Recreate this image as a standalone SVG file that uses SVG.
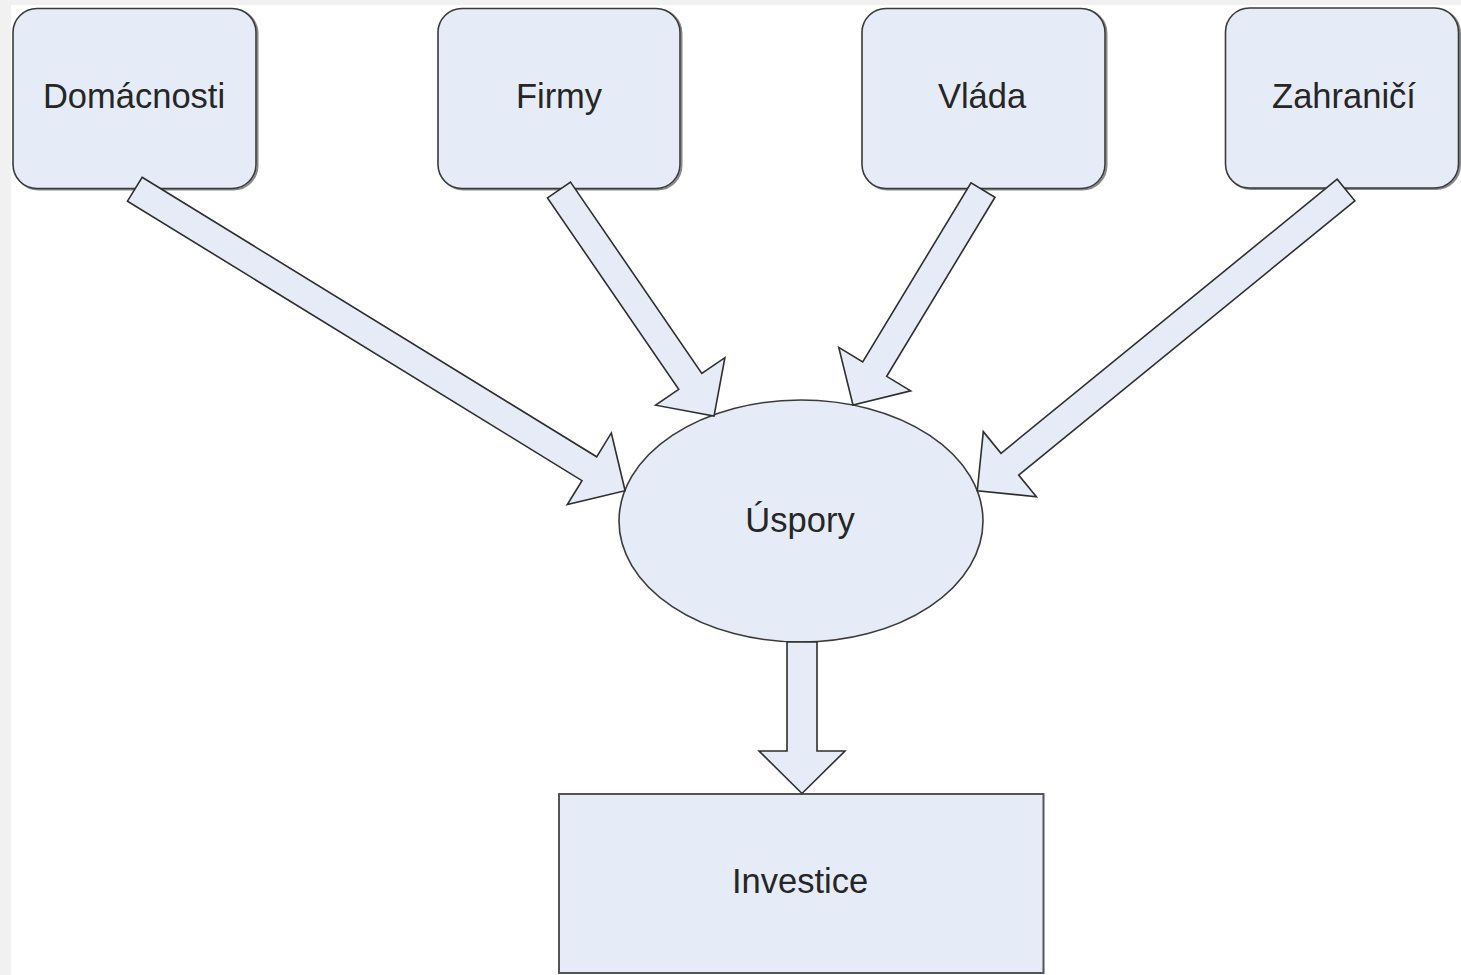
<svg xmlns="http://www.w3.org/2000/svg" width="1461" height="975" viewBox="0 0 1461 975">
<style>
.bg{fill:#ffffff}
.strip{fill:#f1f1f1}
.node{fill:#e5ecf7;stroke:#3a3a3a;stroke-width:1.6}
.shadow{fill:none;stroke:#8a8a8a;stroke-width:2}
.arrow{fill:#e5ecf7;stroke:#2e2e2e;stroke-width:1.6;stroke-linejoin:miter}
.label{font-family:"Liberation Sans",Arial,sans-serif;font-size:34.5px;fill:#262626;text-anchor:middle}
</style>
<rect class="bg" x="0" y="0" width="1461" height="975"/>
<rect class="strip" x="0" y="0" width="1461" height="5"/>
<rect class="strip" x="0" y="0" width="11" height="975"/>

<g id="node-domacnosti">
<rect class="shadow" x="14.5" y="9.5" width="243" height="180" rx="24"/>
<rect class="node" x="13" y="8.5" width="243" height="180" rx="24"/>
<text class="label" x="134" y="108">Domácnosti</text>
</g>
<g id="node-firmy">
<rect class="shadow" x="439.5" y="9.5" width="242" height="180" rx="24"/>
<rect class="node" x="438" y="8.5" width="242" height="180" rx="24"/>
<text class="label" x="559" y="108">Firmy</text>
</g>
<g id="node-vlada">
<rect class="shadow" x="863.5" y="9.5" width="243" height="180" rx="24"/>
<rect class="node" x="862" y="8.5" width="243" height="180" rx="24"/>
<text class="label" x="982" y="108">Vláda</text>
</g>
<g id="node-zahranici">
<rect class="shadow" x="1227" y="9" width="233" height="180" rx="24"/>
<rect class="node" x="1225.5" y="8" width="233" height="180" rx="24"/>
<text class="label" x="1344" y="108">Zahraničí</text>
</g>
<g id="node-uspory">
<ellipse class="node" cx="801" cy="521" rx="182" ry="121"/>
<text class="label" x="800" y="532">Úspory</text>
</g>
<g id="node-investice">
<rect class="node" x="559" y="794" width="484.5" height="179" style="stroke:#555;stroke-width:2"/>
<text class="label" x="800" y="893">Investice</text>
</g>

<g id="connectors">
<path class="arrow" transform="translate(134.8,189.2) rotate(31.59)" d="M0,-14 H533.6 V-42 L575.6,0 L533.6,42 V14 H0 Z"/>
<path class="arrow" transform="translate(559,190) rotate(55.56)" d="M0,-14 H232.1 V-42 L274.1,0 L232.1,42 V14 H0 Z"/>
<path class="arrow" transform="translate(983,190) rotate(121.16)" d="M0,-14 H209.3 V-42 L251.3,0 L209.3,42 V14 H0 Z"/>
<path class="arrow" transform="translate(1346,190) rotate(140.8)" d="M0,-14 H433.8 V-42 L475.8,0 L433.8,42 V14 H0 Z"/>
<path class="arrow" d="M787,642 V751 H759 L802,793.5 L845,751 H817 V642 Z"/>
</g>
</svg>
